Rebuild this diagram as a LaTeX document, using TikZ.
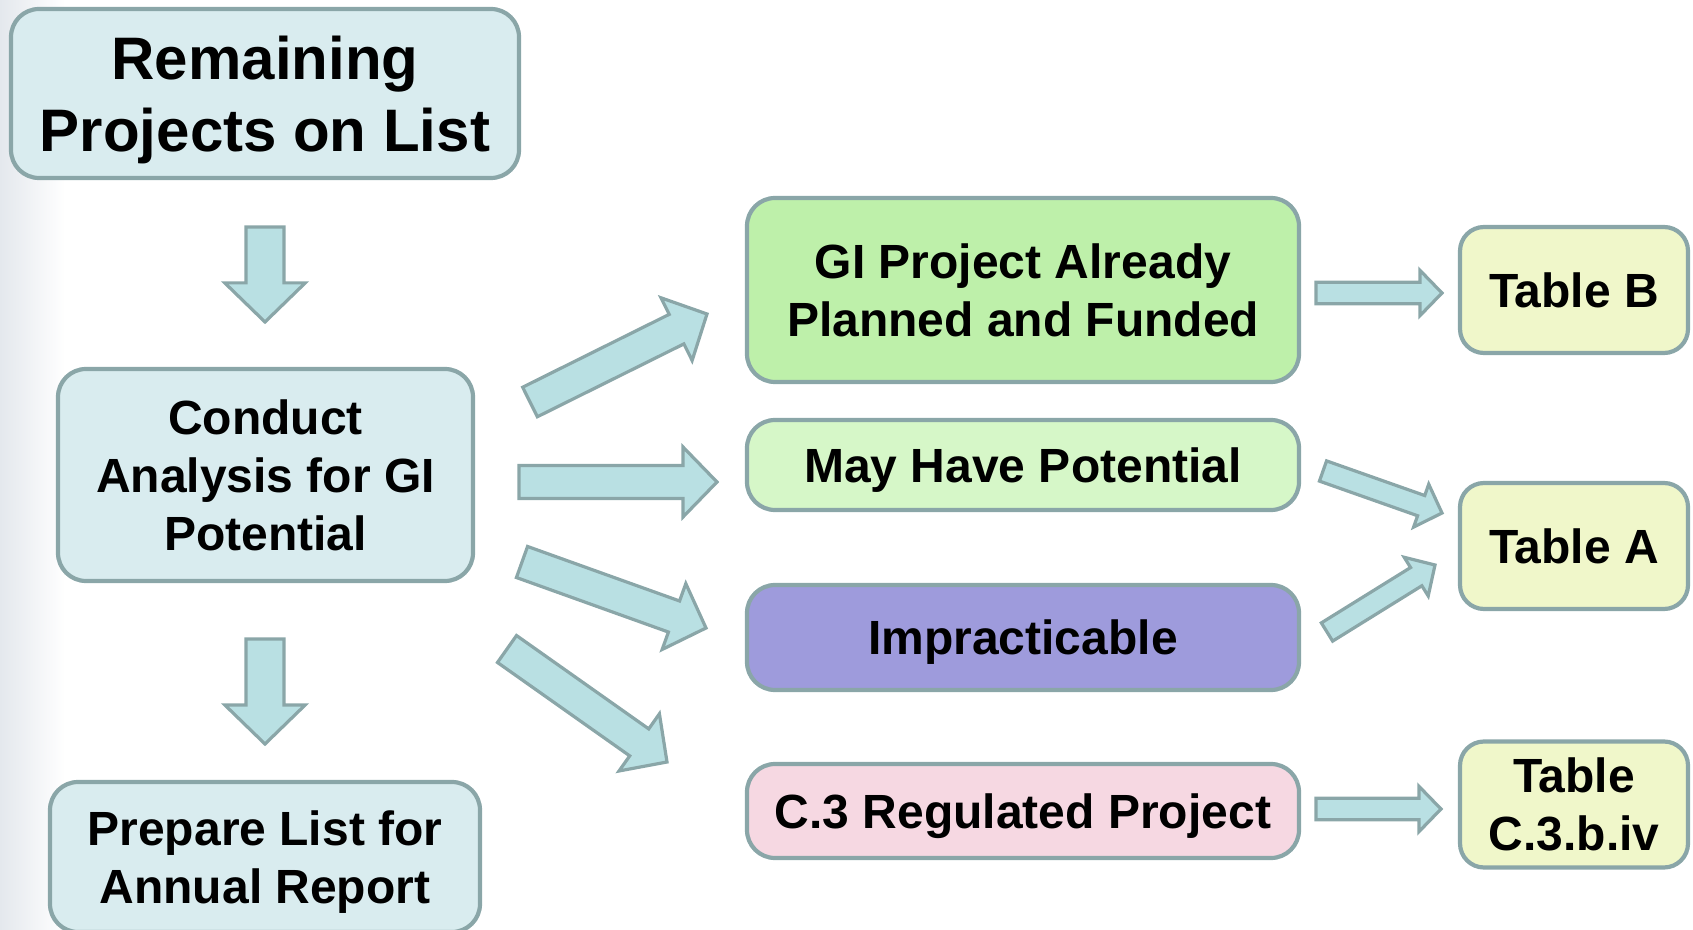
\documentclass[tikz,border=0pt]{standalone}
\usepackage{fontspec}
\setmainfont{Liberation Sans}
\usetikzlibrary{calc}

\definecolor{edgegray}{RGB}{138,166,168}
\definecolor{boxblue}{RGB}{217,236,239}
\definecolor{arrblue}{RGB}{185,224,227}
\definecolor{gigreen}{RGB}{190,240,170}
\definecolor{maygreen}{RGB}{214,247,200}
\definecolor{imppurple}{RGB}{158,155,220}
\definecolor{regpink}{RGB}{246,216,226}
\definecolor{tabyellow}{RGB}{240,247,202}
\definecolor{sidegray}{RGB}{228,232,237}

\tikzset{
  box/.style={draw=edgegray,line width=2.1pt,rounded corners=14pt,align=center,
    inner sep=0pt,text depth=0pt,font=\fontsize{24}{29}\selectfont\bfseries},
  stepbox/.style={box,fill=boxblue},
  tabbox/.style={box,fill=tabyellow,rounded corners=12pt,
    minimum width=114pt,minimum height=63pt},
  blockarr/.style={draw=edgegray,fill=arrblue,line width=1.6pt,line join=miter}
}

% block arrow from #2 to #3, #1 scales it
\newcommand{\flowarr}[3][1]{%
  \pgfmathsetlengthmacro{\shw}{#1*8.25pt}%
  \pgfmathsetlengthmacro{\hdw}{#1*17.5pt}%
  \pgfmathsetlengthmacro{\hdl}{#1*17pt}%
  \coordinate (hb) at ($(#3)!\hdl!(#2)$);
  \draw[blockarr] ($(#2)!\shw!90:(#3)$) -- ($(hb)!\shw!90:(#3)$)
    -- ($(hb)!\hdw!90:(#3)$) -- (#3) -- ($(hb)!\hdw!-90:(#3)$)
    -- ($(hb)!\shw!-90:(#3)$) -- ($(#2)!\shw!-90:(#3)$) -- cycle;
}

\begin{document}
\begin{tikzpicture}
[x=0.5pt,y=-0.5pt]
\useasboundingbox (0,0) rectangle (1693,930);
\shade[left color=sidegray,right color=white] (0,0) rectangle (65,930);

% left column
\node[stepbox,minimum width=254pt,minimum height=84.5pt,
  font=\fontsize{30}{36}\selectfont\bfseries] (rem) at (265,93.5)
  {Remaining\\Projects on List};
\node[stepbox,minimum width=207.5pt,minimum height=106pt] (cond) at (265.5,475)
  {Conduct\\Analysis for GI\\Potential};
\node[stepbox,minimum width=215pt,minimum height=75pt] (prep) at (265,857)
  {Prepare List for\\Annual Report};

% outcomes
\node[box,fill=gigreen,minimum width=276pt,minimum height=92pt] (gi) at (1023,290)
  {GI Project Already\\Planned and Funded};
\node[box,fill=maygreen,minimum width=276pt,minimum height=45pt] (may) at (1023,465)
  {May Have Potential};
\node[box,fill=imppurple,minimum width=276pt,minimum height=52.5pt] (imp) at (1023,637.5)
  {Impracticable};
\node[box,fill=regpink,minimum width=276pt,minimum height=47pt] (reg) at (1023,811)
  {C.3 Regulated Project};

% tables
\node[tabbox] (tabB) at (1574,290) {Table B};
\node[tabbox] (tabA) at (1574,546) {Table A};
\node[tabbox] (tabC) at (1574,804.5) {Table\\C.3.b.iv};

% arrow ends
\coordinate (remS) at (265,227);   \coordinate (condN) at (265,322);
\coordinate (condS) at (265,639);  \coordinate (prepN) at (265,744);
\coordinate (c1) at (530,402);     \coordinate (giW) at (707,314);
\coordinate (c2) at (519,482);     \coordinate (mayW) at (717,482);
\coordinate (c3) at (522,562);     \coordinate (impW) at (706,628);
\coordinate (c4) at (507,649);     \coordinate (regW) at (667,762);
\coordinate (giE) at (1316,293);   \coordinate (tabBW) at (1442,293);
\coordinate (mayE) at (1323,471);  \coordinate (tabAW1) at (1442,513);
\coordinate (impE) at (1327,632);  \coordinate (tabAW2) at (1435,565);
\coordinate (regE) at (1316,809);  \coordinate (tabCW) at (1441,809);

\flowarr[1.15]{remS}{condN}
\flowarr[1.15]{condS}{prepN}
\flowarr{c1}{giW}
\flowarr{c2}{mayW}
\flowarr{c3}{impW}
\flowarr{c4}{regW}
\flowarr[0.65]{giE}{tabBW}
\flowarr[0.65]{mayE}{tabAW1}
\flowarr[0.65]{impE}{tabAW2}
\flowarr[0.65]{regE}{tabCW}
\end{tikzpicture}
\end{document}
